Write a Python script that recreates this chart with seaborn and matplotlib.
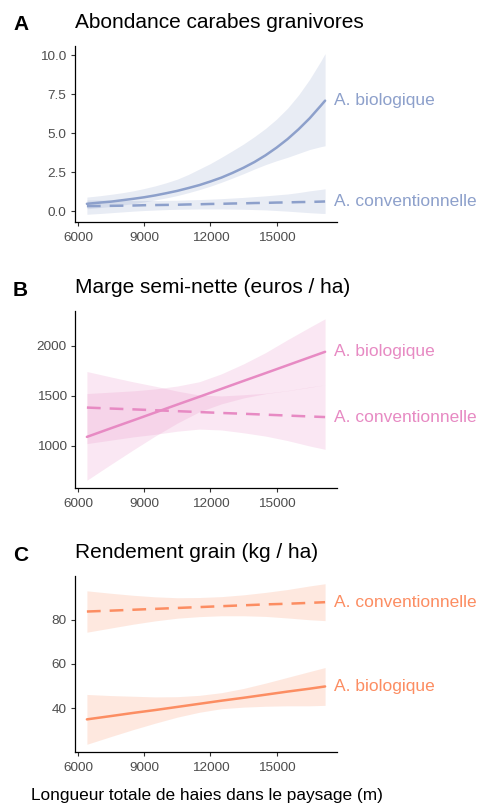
import numpy as np
import pandas as pd
import matplotlib
matplotlib.use('Agg')
import matplotlib.pyplot as plt
import seaborn as sns

# A. Abondance carabes granivores (curved, so read on a finer grid)
carab_x = [6400, 7000, 7500, 8000, 8500, 9000, 9500, 10000, 10500, 11000, 11500, 12000,
           12500, 13000, 13500, 14000, 14500, 15000, 15500, 16000, 16500, 17000, 17200]
carab_bio_fit = [0.47, 0.55, 0.61, 0.70, 0.79, 0.89, 1.01, 1.15, 1.30, 1.48, 1.67, 1.90,
                 2.15, 2.45, 2.78, 3.15, 3.58, 4.07, 4.62, 5.25, 5.95, 6.75, 7.08]
carab_bio_lo = [0.15, 0.23, 0.30, 0.39, 0.48, 0.59, 0.72, 0.85, 1.00, 1.18, 1.38, 1.60,
                1.85, 2.12, 2.40, 2.70, 2.98, 3.23, 3.45, 3.70, 3.95, 4.13, 4.19]
carab_bio_hi = [0.90, 0.99, 1.08, 1.18, 1.30, 1.45, 1.62, 1.82, 2.05, 2.35, 2.70, 3.05,
                3.45, 3.87, 4.30, 4.78, 5.30, 5.90, 6.60, 7.45, 8.45, 9.60, 10.1]
carab_conv_fit = [0.32, 0.33, 0.34, 0.35, 0.36, 0.38, 0.39, 0.40, 0.41, 0.43, 0.44, 0.46,
                  0.47, 0.49, 0.50, 0.52, 0.53, 0.55, 0.56, 0.58, 0.59, 0.61, 0.62]
carab_conv_lo = [-0.20, -0.15, -0.10, -0.05, 0.00, 0.04, 0.07, 0.10, 0.12, 0.13, 0.14, 0.14,
                 0.14, 0.13, 0.12, 0.10, 0.08, 0.04, 0.00, -0.05, -0.10, -0.14, -0.15]
carab_conv_hi = [0.72, 0.71, 0.70, 0.69, 0.68, 0.68, 0.68, 0.69, 0.70, 0.72, 0.74, 0.77,
                 0.80, 0.84, 0.88, 0.93, 0.98, 1.04, 1.10, 1.19, 1.30, 1.39, 1.43]

# Hedge length (x) for panels B and C
hedge_x = [6400, 7500, 8500, 9500, 10500, 11500, 12500, 13500, 14500, 15500, 16500, 17200]

# B. Marge semi-nette (euros / ha)
marge_bio_fit = [1090, 1177, 1255, 1334, 1413, 1491, 1570, 1649, 1727, 1806, 1885, 1940]
marge_bio_lo = [657, 817, 960, 1099, 1228, 1341, 1420, 1479, 1522, 1551, 1585, 1610]
marge_bio_hi = [1523, 1537, 1550, 1569, 1598, 1641, 1720, 1819, 1932, 2061, 2185, 2270]
marge_conv_fit = [1383, 1373, 1365, 1356, 1347, 1338, 1329, 1321, 1312, 1303, 1294, 1288]
marge_conv_lo = [1023, 1058, 1090, 1116, 1147, 1168, 1159, 1131, 1098, 1053, 999, 966]
marge_conv_hi = [1743, 1688, 1640, 1596, 1547, 1508, 1499, 1511, 1526, 1553, 1589, 1610]

# C. Rendement grain (kg / ha)
rdt_bio_fit = [35.1, 36.6, 38.0, 39.3, 40.7, 42.1, 43.5, 44.8, 46.2, 47.6, 48.9, 49.9]
rdt_bio_lo = [23.9, 27.4, 30.5, 33.4, 36.1, 38.3, 39.9, 40.6, 41.0, 41.2, 41.2, 41.4]
rdt_bio_hi = [46.3, 45.8, 45.5, 45.2, 45.3, 45.9, 47.1, 49.0, 51.4, 54.0, 56.6, 58.4]
rdt_conv_fit = [83.6, 84.0, 84.4, 84.8, 85.2, 85.6, 86.0, 86.4, 86.8, 87.1, 87.5, 87.8]
rdt_conv_lo = [74.3, 76.2, 77.9, 79.4, 80.6, 81.3, 81.7, 81.7, 81.4, 80.7, 79.9, 79.5]
rdt_conv_hi = [92.9, 91.8, 90.9, 90.2, 89.8, 89.9, 90.3, 91.1, 92.2, 93.5, 95.1, 96.1]

panel_letters = ['A', 'B', 'C']
panel_titles = ['Abondance carabes granivores', 'Marge semi-nette (euros / ha)', 'Rendement grain (kg / ha)']
series_labels = ['A. biologique', 'A. conventionnelle']
x_ticks = [6000, 9000, 12000, 15000]
y_ticks = [[0, 2.5, 5, 7.5, 10], [1000, 1500, 2000], [40, 60, 80]]
y_ticklabels = [['0.0', '2.5', '5.0', '7.5', '10.0'], ['1000', '1500', '2000'], ['40', '60', '80']]
x_label = 'Longueur totale de haies dans le paysage (m)'

sns.set_theme(style='ticks')
plt.rcParams['font.family'] = ['Liberation Sans', 'DejaVu Sans']

pal = sns.color_palette('Set2')
panel_colors = [pal[2], pal[3], pal[1]]

panel_x = [carab_x, hedge_x, hedge_x]
panel_data = [
    [(carab_bio_fit, carab_bio_lo, carab_bio_hi), (carab_conv_fit, carab_conv_lo, carab_conv_hi)],
    [(marge_bio_fit, marge_bio_lo, marge_bio_hi), (marge_conv_fit, marge_conv_lo, marge_conv_hi)],
    [(rdt_bio_fit, rdt_bio_lo, rdt_bio_hi), (rdt_conv_fit, rdt_conv_lo, rdt_conv_hi)],
]
line_styles = ['-', (0, (5.5, 3.6))]

W, H = 483, 810
fig = plt.figure(figsize=(W / 100, H / 100), dpi=100)

# axes boxes in pixels: (left, top, right, bottom)
boxes = [(75, 45.5, 337, 222.3), (75, 310.7, 337, 488.3), (75, 575.7, 337, 752.3)]

for i, (l, t, r, b) in enumerate(boxes):
    ax = fig.add_axes([l / W, 1 - b / H, (r - l) / W, (b - t) / H])
    col = panel_colors[i]
    xs = panel_x[i]
    for fit, lo, hi in panel_data[i]:
        ax.fill_between(xs, lo, hi, color=col, alpha=0.2, lw=0)
    for (fit, lo, hi), ls, lab in zip(panel_data[i], line_styles, series_labels):
        sns.lineplot(x=xs, y=fit, color=col, lw=1.8, linestyle=ls, ax=ax, errorbar=None)
        ax.annotate(lab, xy=(xs[-1], fit[-1]), xytext=(6.5, 0), textcoords='offset points',
                    ha='left', va='center', color=col, fontsize=12.5, annotation_clip=False)

    ax.set_xticks(x_ticks)
    ax.set_xticklabels([str(v) for v in x_ticks])
    ax.set_yticks(y_ticks[i])
    ax.set_yticklabels(y_ticklabels[i])
    ax.tick_params(labelsize=9.7, labelcolor='#4D4D4D', color='#333333', length=3, width=0.8)
    ax.tick_params(axis='x', pad=4)
    ax.tick_params(axis='y', pad=3)
    ax.set_xlabel('')
    ax.set_ylabel('')
    sns.despine(ax=ax)
    for s in ['left', 'bottom']:
        ax.spines[s].set_color('black')
        ax.spines[s].set_linewidth(0.9)

    fig.text(l / W, 1 - (t - 18) / H, panel_titles[i], fontsize=15, va='baseline', ha='left', color='black')
    fig.text(13 / W, 1 - (t - 15) / H, panel_letters[i], fontsize=15, fontweight='bold',
             va='baseline', ha='left', color='black')

fig.text(31 / W, 1 - 800 / H, x_label, fontsize=12.4, va='baseline', ha='left', color='black')

fig.savefig('out.png', dpi=100)
